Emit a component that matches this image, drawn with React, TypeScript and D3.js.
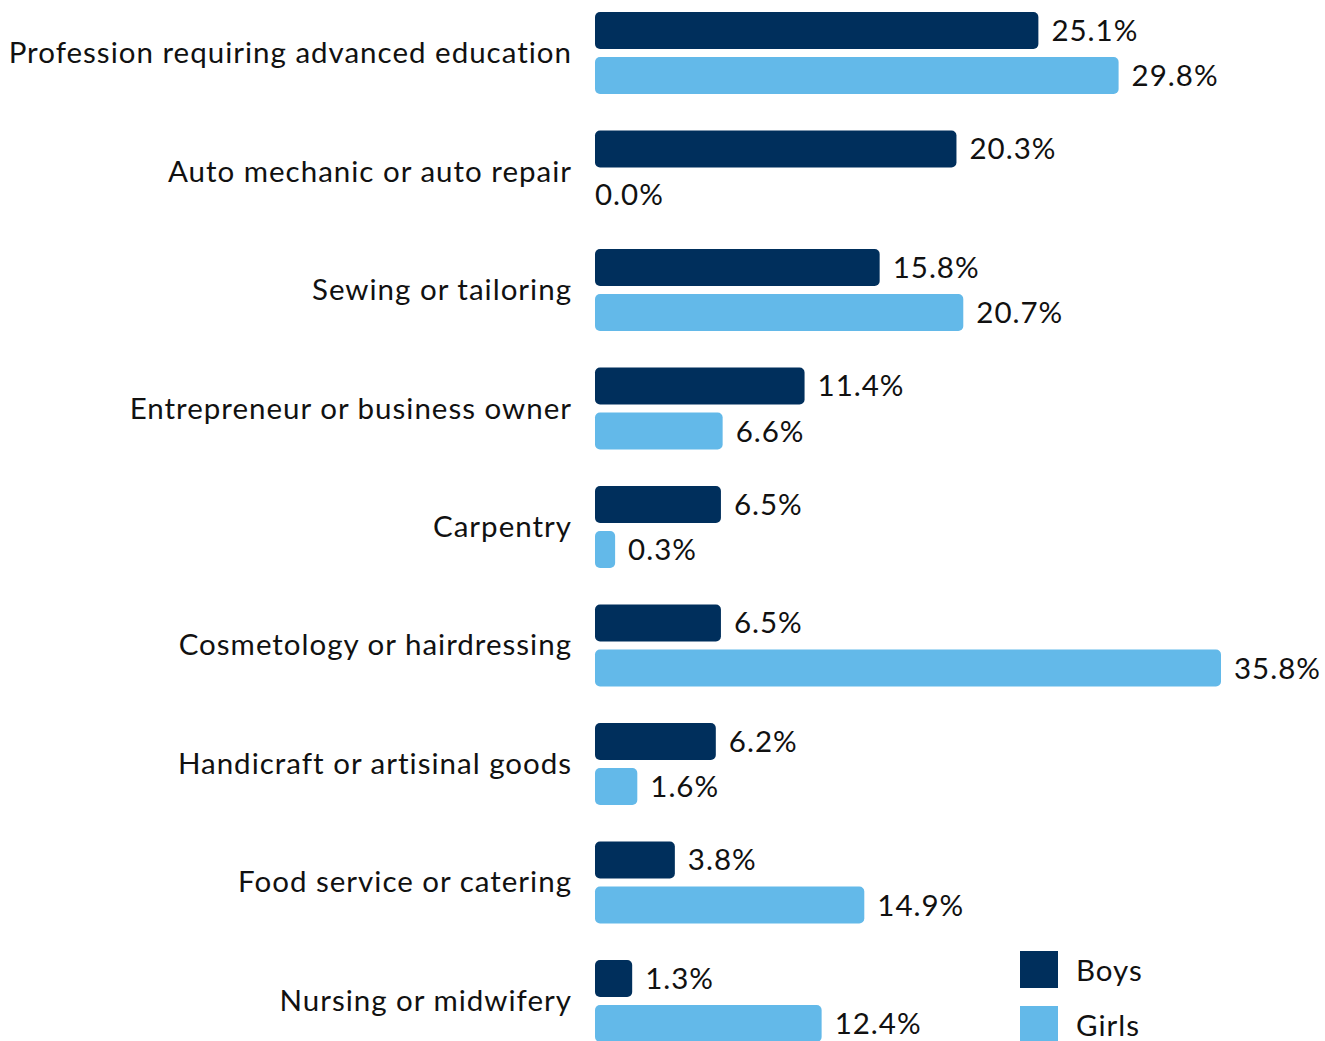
import React from "react";
import * as d3 from "d3";

const categories = [
  "Profession requiring advanced education",
  "Auto mechanic or auto repair",
  "Sewing or tailoring",
  "Entrepreneur or business owner",
  "Carpentry",
  "Cosmetology or hairdressing",
  "Handicraft or artisinal goods",
  "Food service or catering",
  "Nursing or midwifery",
];
const seriesNames = ["Boys", "Girls"];
const boys = [25.1, 20.3, 15.8, 11.4, 6.5, 6.5, 6.2, 3.8, 1.3];
const girls = [29.8, 0.0, 20.7, 6.6, 0.3, 35.8, 1.6, 14.9, 12.4];
const colors = ["#002F5C", "#63B9E9"];

const W = 1325;
const H = 1041;
const FONT = "Lato, 'Open Sans', sans-serif";

export default function App() {
  const x0 = 595;
  const cap = 15;
  const x = d3.scaleLinear().domain([0, 35.8]).range([0, 611]);
  const y = d3.scaleBand<string>().domain(categories).range([12, 1042]).paddingInner(0.308).paddingOuter(0);
  const ys = d3.scaleBand<string>().domain(seriesNames).range([0, y.bandwidth()]).paddingInner(0.178).paddingOuter(0);
  const series = [boys, girls];

  return (
    <div style={{ position: "absolute", left: 0, top: 0 }}>
      <svg width={W} height={H} style={{ display: "block" }}>
        <rect width={W} height={H} fill="#fff" />
        {categories.map((c, i) => {
          const gy = y(c)!;
          return (
            <g key={c}>
              <text x={572} y={gy + y.bandwidth() / 2 - 1.5} textAnchor="end" dominantBaseline="central"
                fontFamily={FONT} fontSize={29.5} letterSpacing={1} fill="#111">{c}</text>
              {seriesNames.map((s, j) => {
                const v = series[j][i];
                const by = gy + ys(s)!;
                const w = v > 0 ? x(v) + cap : 0;
                return (
                  <g key={s}>
                    {v > 0 && (
                      <rect x={x0} y={by} width={w} height={ys.bandwidth()} rx={5} ry={5} fill={colors[j]} />
                    )}
                    <text x={v > 0 ? x0 + w + 13 : x0} y={by + ys.bandwidth() / 2 - 1} dominantBaseline="central"
                      fontFamily={FONT} fontSize={29.5} letterSpacing={1} fill="#111">{v.toFixed(1)}%</text>
                  </g>
                );
              })}
            </g>
          );
        })}
        {seriesNames.map((s, j) => (
          <g key={s} transform={`translate(1020, ${951 + j * 55})`}>
            <rect width={38} height={37} fill={colors[j]} />
            <text x={56} y={18} dominantBaseline="central" fontFamily={FONT} fontSize={29.5} letterSpacing={1} fill="#111">{s}</text>
          </g>
        ))}
      </svg>
    </div>
  );
}
